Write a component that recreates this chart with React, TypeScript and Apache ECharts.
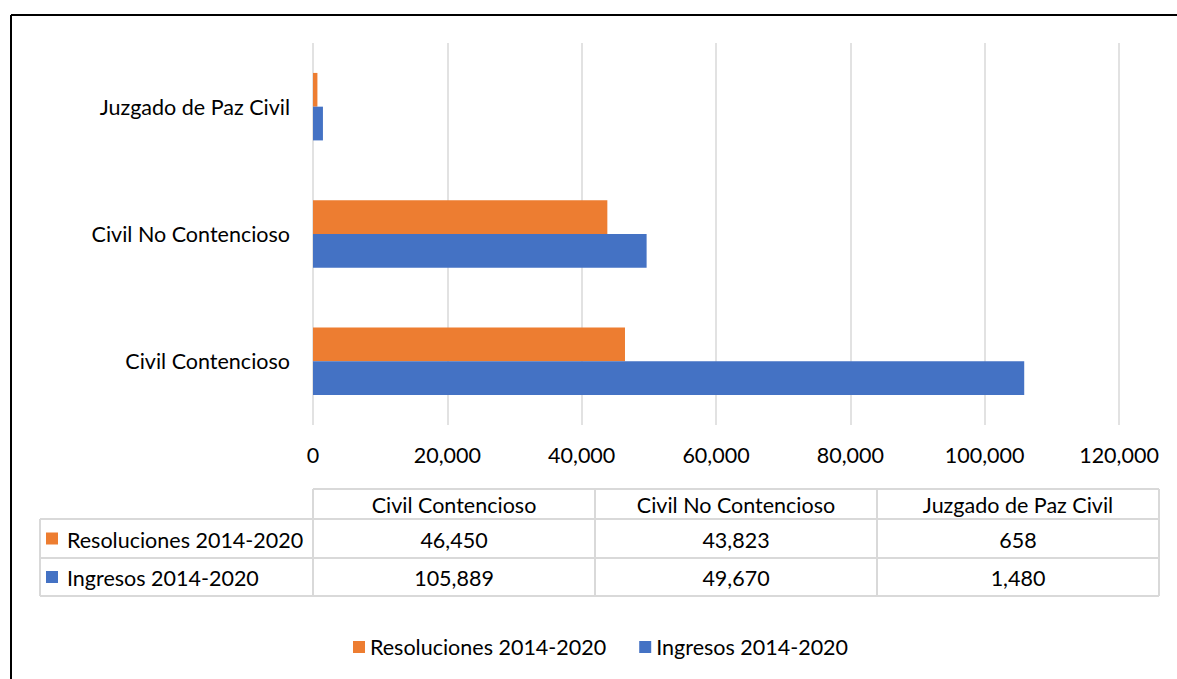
import React, { useEffect, useRef } from "react";
import * as echarts from "echarts";

const categories = ["Civil Contencioso", "Civil No Contencioso", "Juzgado de Paz Civil"];
const resoluciones = [46450, 43823, 658];
const ingresos = [105889, 49670, 1480];
const seriesNames = ["Resoluciones 2014-2020", "Ingresos 2014-2020"];
const xTicks = [0, 20000, 40000, 60000, 80000, 100000, 120000];

const ORANGE = "#ED7D31";
const BLUE = "#4472C4";
const GRID = "#D9D9D9";
const FONT = "Lato";
const FS = 21.5;

const fmt = (v: number) => v.toLocaleString("en-US");

export default function App() {
  const ref = useRef<HTMLDivElement>(null);
  useEffect(() => {
    if (!ref.current) return;
    const chart = echarts.init(ref.current, null, { renderer: "svg" });

    // table geometry
    const tLeft = 40;
    const tCol0 = 313;
    const tRight = 1159;
    const rows = [489, 519, 558, 596];
    const colW = (tRight - tCol0) / categories.length;
    const colX = categories.map((_, i) => tCol0 + colW * i);
    const lineStyle = { stroke: GRID, lineWidth: 2 };
    const g: any[] = [];
    g.push({ type: "line", shape: { x1: tCol0, y1: rows[0], x2: tRight, y2: rows[0] }, style: lineStyle });
    for (let r = 1; r < rows.length; r++) {
      g.push({ type: "line", shape: { x1: tLeft, y1: rows[r], x2: tRight, y2: rows[r] }, style: lineStyle });
    }
    g.push({ type: "line", shape: { x1: tLeft, y1: rows[1], x2: tLeft, y2: rows[3] }, style: lineStyle });
    for (let c = 0; c <= categories.length; c++) {
      const x = tCol0 + colW * c;
      g.push({ type: "line", shape: { x1: x, y1: rows[0], x2: x, y2: rows[3] }, style: lineStyle });
    }
    categories.forEach((cat, i) => {
      g.push({
        type: "text",
        x: colX[i] + colW / 2,
        y: (rows[0] + rows[1]) / 2 + 1,
        style: { text: cat, font: `${FS}px ${FONT}`, fill: "#000", align: "center", verticalAlign: "middle" },
      });
    });
    const tableSeries = [
      { name: seriesNames[0], color: ORANGE, values: resoluciones },
      { name: seriesNames[1], color: BLUE, values: ingresos },
    ];
    tableSeries.forEach((s, r) => {
      const cy = (rows[r + 1] + rows[r + 2]) / 2 + 1;
      g.push({ type: "rect", shape: { x: 46, y: cy - 7, width: 12, height: 12 }, style: { fill: s.color } });
      g.push({
        type: "text",
        x: 67,
        y: cy,
        style: { text: s.name, font: `${FS}px ${FONT}`, fill: "#000", align: "left", verticalAlign: "middle" },
      });
      s.values.forEach((v, i) => {
        g.push({
          type: "text",
          x: colX[i] + colW / 2,
          y: cy,
          style: { text: fmt(v), font: `${FS}px ${FONT}`, fill: "#000", align: "center", verticalAlign: "middle" },
        });
      });
    });
    g.push({ type: "line", shape: { x1: 11, y1: 15, x2: 1177, y2: 15 }, style: { stroke: "#000", lineWidth: 2 } });
    g.push({ type: "line", shape: { x1: 11, y1: 15, x2: 11, y2: 679 }, style: { stroke: "#000", lineWidth: 2 } });

    chart.setOption({
      animation: false,
      backgroundColor: "#fff",
      textStyle: { fontFamily: FONT },
      grid: { left: 313, right: 58, top: 43, bottom: 254, containLabel: false },
      legend: {
        data: seriesNames,
        left: 348,
        top: 631,
        itemWidth: 12,
        itemHeight: 12,
        itemGap: 33,
        icon: "rect",
        textStyle: { fontSize: FS, color: "#000", fontFamily: FONT },
      },
      xAxis: {
        type: "value",
        min: xTicks[0],
        max: xTicks[xTicks.length - 1],
        interval: xTicks[1] - xTicks[0],
        axisLine: { show: false },
        axisTick: { show: false },
        axisLabel: { formatter: (v: number) => fmt(v), fontSize: FS, color: "#000", margin: 19, fontFamily: FONT },
        splitLine: { show: true, lineStyle: { color: GRID, width: 1.5 } },
      },
      yAxis: {
        type: "category",
        data: categories,
        axisLine: { show: false },
        axisTick: { show: false },
        axisLabel: { fontSize: FS, color: "#000", margin: 23, fontFamily: FONT },
        splitLine: { show: false },
      },
      series: [
        {
          name: seriesNames[0],
          type: "bar",
          data: resoluciones,
          itemStyle: { color: ORANGE },
          barGap: "0%",
          barCategoryGap: "47%",
        },
        {
          name: seriesNames[1],
          type: "bar",
          data: ingresos,
          itemStyle: { color: BLUE },
          barGap: "0%",
          barCategoryGap: "47%",
        },
      ],
      graphic: g,
    });
    return () => chart.dispose();
  }, []);
  return (
    <div
      ref={ref}
      style={{ position: "absolute", left: 0, top: 0, width: 1177, height: 679, background: "#fff" }}
    />
  );
}
